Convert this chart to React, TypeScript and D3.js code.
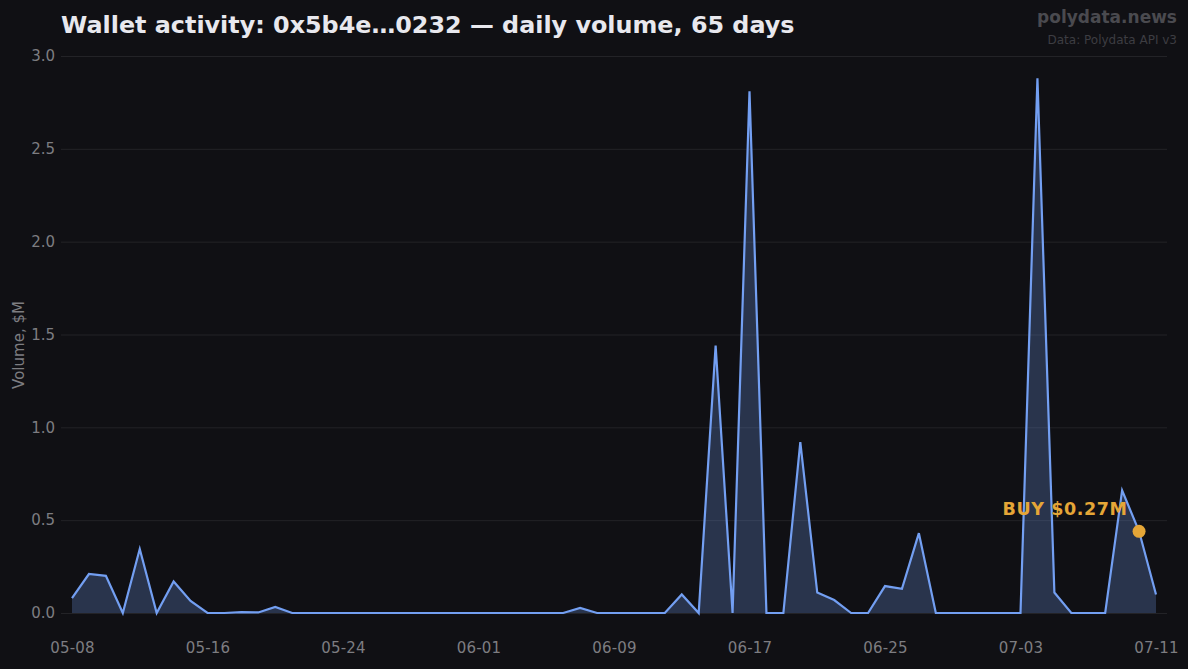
import { useEffect, useRef } from "react";
import * as d3 from "d3";

const width = 1188;
const height = 669;

const startDay = new Date(Date.UTC(2025, 4, 8));
const dayCount = 65;

const volumes = [
  0.08, 0.21, 0.2, 0, 0.345, 0, 0.17, 0.065, 0, 0, 0.005, 0.003, 0.033, 0, 0, 0,
  0, 0, 0, 0, 0, 0, 0, 0, 0, 0, 0, 0, 0, 0, 0.027, 0, 0, 0, 0, 0, 0.1, 0, 1.44,
  0, 2.81, 0, 0, 0.92, 0.11, 0.07, 0, 0, 0.145, 0.13, 0.43, 0, 0, 0, 0, 0, 0,
  2.88, 0.11, 0, 0, 0, 0.66, 0.44, 0.1,
];
const yTicks = [0, 0.5, 1, 1.5, 2, 2.5, 3];
const xTickEvery = 8;

const markerIndex = 63;
const markerLabel = "BUY $0.27M";

const BG = "#101014";
const GRID = "#232327";
const LINE = "#739ff2";
const TICK = "#7d7d81";
const ORANGE = "#e5a637";
const FONT = "'DejaVu Sans', sans-serif";

export default function App() {
  const svgRef = useRef<SVGSVGElement>(null);

  useEffect(() => {
    if (!svgRef.current) return;
    const svg = d3.select(svgRef.current);
    svg.selectAll("*").remove();

    const days = d3.utcDay.range(startDay, d3.utcDay.offset(startDay, dayCount));
    const fmt = d3.utcFormat("%m-%d");

    const x = d3.scaleUtc().domain([days[0], days[days.length - 1]]).range([72, 1156]);
    const y = d3.scaleLinear().domain([0, 3]).range([613, 56]);

    // grid + y ticks
    const yAxis = d3
      .axisLeft(y)
      .tickValues(yTicks)
      .tickSize(-(1167 - 61))
      .tickPadding(6)
      .tickFormat((d) => d3.format(".1f")(d as number));
    const gy = svg.append("g").attr("transform", "translate(61,0)").call(yAxis);
    gy.select(".domain").remove();
    gy.selectAll(".tick line").attr("stroke", GRID).attr("stroke-width", 1);
    gy.selectAll(".tick text")
      .attr("fill", TICK)
      .style("font-family", FONT)
      .style("font-size", "15px");

    // x ticks, no lines
    const xAxis = d3
      .axisBottom(x)
      .tickValues(days.filter((_, i) => i % xTickEvery === 0))
      .tickSize(0)
      .tickPadding(0)
      .tickFormat((d) => fmt(d as Date));
    const gx = svg.append("g").attr("transform", "translate(0,642)").call(xAxis);
    gx.select(".domain").remove();
    gx.selectAll(".tick text")
      .attr("fill", TICK)
      .style("font-family", FONT)
      .style("font-size", "15px")
      .style("letter-spacing", "0.2px");

    const area = d3
      .area<number>()
      .x((_, i) => x(days[i]))
      .y0(y(0))
      .y1((d) => y(d));
    const line = d3
      .line<number>()
      .x((_, i) => x(days[i]))
      .y((d) => y(d));

    svg.append("path").attr("d", area(volumes)!).attr("fill", LINE).attr("fill-opacity", 0.25);
    svg
      .append("path")
      .attr("d", line(volumes)!)
      .attr("fill", "none")
      .attr("stroke", LINE)
      .attr("stroke-width", 2.2)
      .attr("stroke-linejoin", "miter");

    // marcador
    svg
      .append("circle")
      .attr("cx", x(days[markerIndex]))
      .attr("cy", y(volumes[markerIndex]))
      .attr("r", 6.5)
      .attr("fill", ORANGE);
    svg
      .append("text")
      .attr("x", x(days[markerIndex]) - 11.5)
      .attr("y", 515)
      .attr("text-anchor", "end")
      .attr("fill", ORANGE)
      .style("font-family", FONT)
      .style("font-size", "17.5px")
      .style("font-weight", "bold")
      .style("letter-spacing", "0.6px")
      .text(markerLabel);

    // textos
    svg
      .append("text")
      .attr("x", 61)
      .attr("y", 33)
      .attr("fill", "#e8e8ee")
      .style("font-family", FONT)
      .style("font-size", "23.85px")
      .style("font-weight", "bold")
      .text("Wallet activity: 0x5b4e…0232 — daily volume, 65 days");

    svg
      .append("text")
      .attr("transform", "translate(24,345) rotate(-90)")
      .attr("text-anchor", "middle")
      .attr("fill", TICK)
      .style("font-family", FONT)
      .style("font-size", "15px")
      .text("Volume, $M");

    svg
      .append("text")
      .attr("x", 1177)
      .attr("y", 23)
      .attr("text-anchor", "end")
      .attr("fill", "#4a4a4f")
      .style("font-family", FONT)
      .style("font-size", "17px")
      .style("font-weight", "bold")
      .text("polydata.news");

    svg
      .append("text")
      .attr("x", 1177)
      .attr("y", 44)
      .attr("text-anchor", "end")
      .attr("fill", "#3d3d42")
      .style("font-family", FONT)
      .style("font-size", "12px")
      .text("Data: Polydata API v3");
  }, []);

  return (
    <>
      <style>{`body{margin:0;background:${BG}}`}</style>
      <svg
        ref={svgRef}
        width={width}
        height={height}
        viewBox={`0 0 ${width} ${height}`}
        style={{ display: "block", background: BG }}
      />
    </>
  );
}
